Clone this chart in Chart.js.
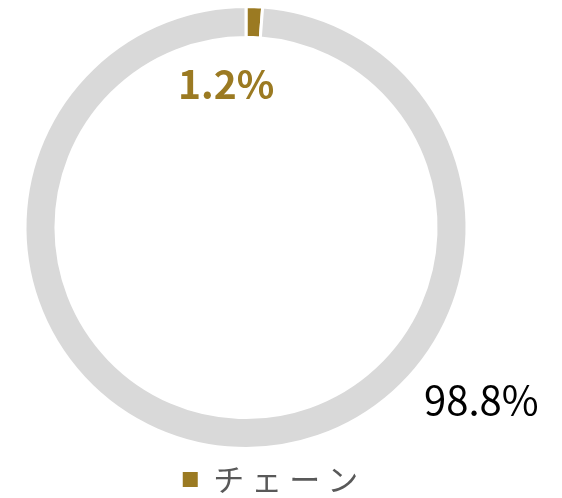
<!DOCTYPE html>
<html lang="ja">
<head>
   <meta charset="UTF-8">
   <title>チェーン</title>
   <script src="https://cdn.jsdelivr.net/npm/chart.js@4"></script>
   <style>
      html, body { margin: 0; padding: 0; background: #fff; }
      .chart-container { width: 562px; height: 498px; position: relative; }
   </style>
</head>
<body>
   <div class="chart-container">
      <canvas id="myChart"></canvas>
   </div>
   <script>
      const categories = ['チェーン', 'その他'];
      const values = [1.2, 98.8];
      const colors = ['#9B7A22', '#D9D9D9'];
      const labelColors = ['#9B7A22', '#000000'];
      const labelBold = [true, false];
      // label offsets as a fraction of the outer radius
      const labelOffsets = [[-0.09, -0.65], [1.065, 0.78]];

      const FONT = '"Noto Sans CJK JP", "Noto Sans", sans-serif';

      const spacingPlugin = {
         id: 'legendSpacing',
         beforeLayout(chart) { chart.ctx.letterSpacing = '7px'; },
         afterLayout(chart) {
            chart.ctx.letterSpacing = '0px';
            const lg = chart.legend;
            if (lg) {
               lg.left += 28; lg.right += 28;
               lg.top += 7; lg.bottom += 7;
            }
         },
         beforeDraw(chart) { chart.ctx.letterSpacing = '7px'; },
         beforeDatasetsDraw(chart) { chart.ctx.letterSpacing = '0px'; }
      };

      const valueLabels = {
         id: 'valueLabels',
         afterDatasetsDraw(chart) {
            const ctx = chart.ctx;
            const arcs = chart.getDatasetMeta(0).data;
            ctx.save();
            ctx.letterSpacing = '0px';
            ctx.textAlign = 'center';
            ctx.textBaseline = 'middle';
            arcs.forEach((arc, i) => {
               const r = arc.outerRadius;
               const x = arc.x + labelOffsets[i][0] * r;
               const y = arc.y + labelOffsets[i][1] * r;
               ctx.font = (labelBold[i] ? 'bold 39px ' : '40px ') + FONT;
               ctx.fillStyle = labelColors[i];
               ctx.fillText(values[i].toFixed(1) + '%', x, y);
            });
            ctx.restore();
         }
      };

      const config = {
         type: 'doughnut',
         data: {
            labels: categories,
            datasets: [{
               data: values,
               backgroundColor: colors,
               borderColor: '#ffffff',
               borderWidth: 3
            }]
         },
         options: {
            responsive: true,
            maintainAspectRatio: false,
            animation: false,
            cutout: '86%',
            layout: { padding: { top: 5, left: 22, right: 92, bottom: 0 } },
            plugins: {
               tooltip: { enabled: false },
               legend: {
                  position: 'bottom',
                  labels: {
                     font: { family: FONT, size: 31 },
                     color: '#595959',
                     boxWidth: 15,
                     boxHeight: 15,
                     padding: 7,
                     generateLabels(chart) {
                        return [{
                           text: categories[0],
                           fillStyle: colors[0],
                           strokeStyle: colors[0],
                           lineWidth: 0,
                           fontColor: '#595959',
                           index: 0
                        }];
                     }
                  }
               }
            }
         },
         plugins: [spacingPlugin, valueLabels]
      };

      const ctx = document.getElementById('myChart').getContext('2d');
      new Chart(ctx, config);
   </script>
</body>
</html>
